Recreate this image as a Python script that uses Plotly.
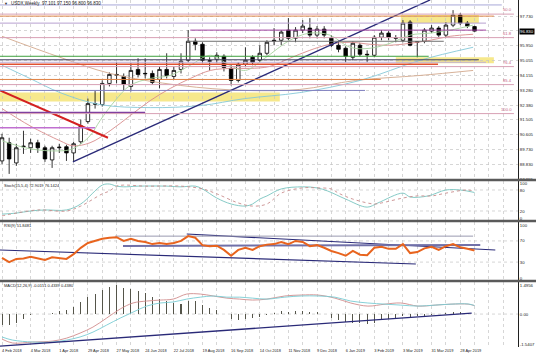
import plotly.graph_objects as go

# ---------------- data ----------------
bar_index = list(range(67))
date_label_bars = [0, 4, 8, 12, 16, 20, 24, 28, 32, 36, 40, 44, 48, 52, 56, 60, 64]
date_labels = ["4 Feb 2018", "4 Mar 2018", "1 Apr 2018", "29 Apr 2018", "27 May 2018",
               "24 Jun 2018", "22 Jul 2018", "19 Aug 2018", "16 Sep 2018", "14 Oct 2018",
               "11 Nov 2018", "9 Dec 2018", "6 Jan 2019", "3 Feb 2019", "3 Mar 2019",
               "31 Mar 2019", "28 Apr 2019"]

open_p = [89.04, 90.13, 88.92, 89.89, 89.83, 90.13, 89.83, 89.10, 89.83, 89.89,
          89.52, 90.19, 91.40, 92.48, 92.42, 93.69, 94.23, 94.11, 93.51, 94.53,
          94.26, 94.29, 93.93, 94.53, 94.11, 94.53, 95.08, 96.22, 96.04, 95.02,
          95.14, 95.32, 94.59, 93.87, 94.84, 95.26, 95.08, 95.50, 96.28, 96.28,
          96.89, 96.40, 96.89, 97.01, 96.59, 96.95, 96.40, 95.98, 95.80, 95.26,
          95.98, 95.44, 95.38, 96.46, 96.71, 96.40, 96.28, 97.37, 96.16, 96.22,
          96.83, 97.01, 96.59, 97.19, 97.79, 97.31, 97.101]
high_p = [90.67, 90.43, 90.07, 90.85, 90.37, 90.31, 89.95, 89.95, 90.07, 90.01,
          90.19, 91.52, 92.78, 93.27, 93.87, 94.35, 94.96, 94.29, 94.90, 95.20,
          95.20, 94.47, 94.71, 95.50, 94.71, 95.50, 96.89, 96.40, 96.16, 95.26,
          95.56, 95.44, 94.84, 94.96, 95.86, 95.38, 95.98, 96.28, 97.01, 96.89,
          97.61, 97.07, 97.49, 97.61, 97.13, 97.13, 96.59, 96.28, 95.92, 96.22,
          96.10, 95.68, 96.59, 96.89, 96.83, 96.59, 97.49, 97.49, 96.22, 97.01,
          97.19, 97.13, 97.37, 98.09, 97.91, 97.43, 97.150]
low_p = [88.86, 88.26, 88.74, 89.46, 89.52, 89.52, 88.98, 88.62, 89.52, 89.04,
         88.98, 90.07, 91.27, 92.18, 92.30, 93.51, 93.69, 93.27, 93.21, 94.05,
         93.99, 93.63, 93.39, 93.99, 93.93, 94.29, 94.96, 95.68, 94.90, 94.47,
         94.90, 94.41, 93.57, 93.75, 94.71, 94.78, 94.96, 95.38, 95.98, 95.98,
         96.28, 96.16, 96.71, 96.40, 96.40, 96.40, 95.86, 95.56, 94.96, 95.08,
         95.32, 94.96, 95.26, 96.28, 96.28, 96.16, 96.16, 95.92, 95.26, 96.10,
         96.71, 96.46, 96.46, 97.07, 97.19, 97.01, 96.800]
close_p = [90.43, 89.16, 89.83, 89.92, 90.13, 89.83, 89.16, 89.83, 89.86, 89.52,
           90.07, 91.15, 92.48, 92.45, 93.69, 94.23, 94.20, 93.63, 94.47, 94.23,
           94.29, 93.75, 94.53, 94.17, 94.47, 95.02, 96.22, 96.04, 95.08, 95.05,
           95.38, 94.65, 93.87, 94.84, 95.08, 94.96, 95.50, 96.16, 96.25, 96.77,
           96.40, 96.89, 97.13, 96.59, 96.95, 96.59, 95.98, 95.74, 95.32, 96.10,
           95.44, 95.41, 96.46, 96.71, 96.46, 96.43, 97.31, 95.98, 96.19, 96.89,
           97.01, 96.59, 97.19, 97.79, 97.31, 97.13, 96.830]

# moving averages, read at sample bars
ma_long_bars = [0, 8.1, 15.1, 24.9, 33.9, 41.6, 49.4, 58.4, 65.8]
ma_long_vals = [96.52, 95.26, 94.29, 93.57, 93.27, 93.33, 93.87, 94.17, 94.47]
ma_mid_bars = [0, 3.9, 8.1, 13.7, 20.7, 27.7, 33.9, 41.6, 50, 58.4, 65.8]
ma_mid_vals = [94.78, 93.99, 93.14, 92.42, 92.24, 92.36, 92.78, 93.14, 93.87, 95.08, 95.86]
ma_21_bars = [0, 3.9, 8.1, 9.9, 12.3, 15.1, 17.9, 20.7, 23.5, 26.3, 29.1, 31.8,
              34.6, 37.4, 40.2, 43, 45.8, 48.6, 51.4, 54.2, 57, 59.8, 62.6, 65.8]
ma_21_vals = [92.18, 91.15, 90.25, 89.95, 90.13, 90.85, 91.76, 92.66, 93.39, 93.99,
              94.47, 94.59, 94.59, 94.71, 95.20, 95.68, 96.04, 96.16, 96.04, 95.98,
              96.10, 96.28, 96.52, 96.64]
ma_fast_bars = [0, 3.9, 7.8, 9.9, 12.3, 13.7, 15.8, 17.9, 20.7, 23.5, 26.3, 29.1,
                31.8, 34, 36.7, 40.2, 43, 45.8, 48.6, 51.4, 54.2, 57, 59.8, 62.6, 65.8]
ma_fast_vals = [90.25, 89.77, 89.64, 89.77, 90.55, 91.46, 92.66, 93.57, 93.99, 94.17,
                94.78, 95.38, 94.78, 94.47, 95.20, 96.28, 96.71, 96.59, 95.86, 95.80,
                96.10, 96.59, 96.71, 96.89, 97.19]

price_ticks = [97.730, 96.850, 95.950, 95.055, 94.155, 93.280, 92.380, 91.505,
               90.605, 89.730, 88.830, 87.955]
price_tick_text = ["97.730", "", "95.950", "95.055", "94.155", "93.280", "92.380",
                   "91.505", "90.605", "89.730", "88.830", "87.955"]

# support / resistance levels (price) and their bar extents
level_prices = [98.40, 97.73, 97.31, 96.89, 96.22, 95.32, 95.11, 94.96, 94.84, 93.93, 93.27, 91.94, 91.03]
level_from = [-0.3, -0.3, -0.3, 26.3, 25.8, -0.3, -0.3, -0.3, -0.3, -0.3, -0.3, -0.3, -0.3]
level_to = [69.8, 68.7, 67.6, 67.6, 61.7, 59.6, 66.6, 67.6, 60.9, 52.9, 50.7, 20.0, 13.0]
fib_names = ["50.0", "61.8", "76.4", "85.4", "100.0"]
fib_prices = [97.85, 96.44, 94.70, 93.62, 91.88]
zone_from = [-0.3, 55.7, 55.0]
zone_to = [38.8, 66.6, 68.7]
zone_low = [92.60, 97.31, 94.90]
zone_high = [93.14, 97.79, 95.26]
red_trend = ([-0.28, 14.8], [93.27, 90.43])
up_trend = ([9.9, 59.8], [88.98, 98.70])

stoch_k_bars = [0, 2, 4, 6, 9, 11, 14, 15, 16, 17, 19, 23, 25, 27, 28, 30, 32, 34, 35, 36,
                37, 39, 42, 44, 45.5, 48, 51, 52.5, 56, 57, 59.5, 62, 64, 66]
stoch_k = [11, 14, 20, 23, 23, 40, 94, 97, 91, 89, 91, 91, 89, 91, 83, 57, 40, 34, 40, 54,
           63, 83, 89, 86, 77, 54, 31, 43, 71, 60, 63, 80, 80, 72.9]
stoch_d_bars = [0, 2, 5, 9, 11, 14, 15, 16, 17, 20, 25, 28, 30, 33, 35, 37, 39, 42, 44, 46,
                47, 49, 52, 53, 56, 58, 60, 62, 65, 66]
stoch_d = [6, 14, 23, 20, 34, 69, 77, 91, 94, 91, 91, 83, 69, 43, 34, 40, 71, 86, 86, 83,
           71, 54, 40, 43, 57, 63, 63, 71, 80, 76.1]

rsi = [38, 30, 36, 37, 40, 37, 34, 39, 38, 36, 45, 57, 66, 70, 74, 76, 77, 70, 74, 70,
       68, 64, 66, 64, 66, 70, 79, 76, 62, 60, 61, 53, 42, 53, 57, 53, 60, 63, 64, 68,
       64, 70, 68, 60, 62, 57, 51, 47, 42, 51, 44, 43, 57, 59, 55, 55, 64, 47, 49, 56,
       59, 53, 60, 64, 58, 55, 51.85]
rsi_lines = [([-0.28, 57.8], [52.8, 26.4]), ([25.8, 68.9], [83, 52.8]),
             ([16.9, 66.8], [60.4, 62.3]), ([15.8, 65.8], [79, 79])]

macd_hist = [-0.57, -0.57, -0.46, -0.26, -0.03, 0.0, 0.0, 0.05, 0.15, 0.2,
             0.34, 0.6, 0.9, 1.03, 1.24, 1.41, 1.5, 1.36, 1.29, 1.2,
             1.1, 0.9, 0.79, 0.65, 0.57, 0.53, 0.69, 0.65, 0.48, 0.31,
             0.22, 0.0, -0.26, -0.29, -0.26, -0.21, -0.17, -0.05, 0.05, 0.17,
             0.13, 0.15, 0.15, 0.12, 0.1, 0.0, -0.2, -0.28, -0.4, -0.45,
             -0.45, -0.5, -0.45, -0.3, -0.25, -0.2, -0.12, -0.17, -0.12, -0.08,
             -0.04, 0.0, 0.05, 0.1, 0.1, 0.05, -0.0151]
macd_line_bars = [0, 1.5, 4.3, 7.1, 9, 10.9, 12.7, 14.6, 16.5, 18.3, 20.2, 22.1, 23.9,
                  25.8, 27.7, 29.5, 31.4, 33.2, 35, 37, 39.5, 41.8, 44.1, 46.5, 48.7,
                  51.1, 53.5, 55.7, 58.1, 60.5, 62.7, 65.1, 66]
macd_pink = [-1.29, -1.49, -1.44, -1.39, -1.24, -0.98, -0.67, -0.21, 0.26, 0.57, 0.67,
             0.72, 0.77, 1.03, 1.03, 0.93, 0.82, 0.77, 0.72, 0.77, 0.93, 0.98, 0.98,
             0.82, 0.57, 0.41, 0.51, 0.57, 0.41, 0.46, 0.51, 0.51, 0.4339]
macd_teal = [-1.18, -1.34, -1.44, -1.44, -1.34, -1.18, -0.93, -0.57, -0.21, 0.10, 0.41,
             0.57, 0.62, 0.77, 0.87, 0.93, 0.87, 0.87, 0.82, 0.77, 0.87, 0.93, 0.93,
             0.87, 0.67, 0.57, 0.51, 0.46, 0.41, 0.46, 0.51, 0.52, 0.4380]
macd_trend = ([-0.28, 65.6], [-1.65, 0.05])

# ---------------- geometry helpers ----------------
W, H = 536, 357
PLOT_RIGHT = 518


def fx(px):
    return px / W


def fy(px):
    return 1 - px / H


FONT = "Liberation Sans"
GRID = "#c4c4c4"
XRANGE = [-0.28, 72.07]

fig = go.Figure()

# main panel
fig.add_trace(go.Candlestick(
    x=bar_index, open=open_p, high=high_p, low=low_p, close=close_p,
    increasing=dict(line=dict(color="black", width=0.8), fillcolor="white"),
    decreasing=dict(line=dict(color="black", width=0.8), fillcolor="black"),
    whiskerwidth=0, xaxis="x", yaxis="y"))
for bx, vals, col in [(ma_long_bars, ma_long_vals, "#d2a88c"),
                      (ma_mid_bars, ma_mid_vals, "#86c8d8"),
                      (ma_21_bars, ma_21_vals, "#d88c8c"),
                      (ma_fast_bars, ma_fast_vals, "#a8d4a0")]:
    fig.add_trace(go.Scatter(x=bx, y=vals, mode="lines", line=dict(color=col, width=0.9, shape="spline"),
                             xaxis="x", yaxis="y"))
fig.add_trace(go.Scatter(x=red_trend[0], y=red_trend[1], mode="lines",
                         line=dict(color="#d42020", width=2), xaxis="x", yaxis="y"))
fig.add_trace(go.Scatter(x=up_trend[0], y=up_trend[1], mode="lines",
                         line=dict(color="#2a2a78", width=1.4), xaxis="x", yaxis="y"))

# stochastic
fig.add_trace(go.Scatter(x=stoch_k_bars, y=stoch_k, mode="lines",
                         line=dict(color="#78c4c0", width=0.9, shape="spline"), xaxis="x2", yaxis="y2"))
fig.add_trace(go.Scatter(x=stoch_d_bars, y=stoch_d, mode="lines",
                         line=dict(color="#c88c8c", width=0.9, dash="dot", shape="spline"), xaxis="x2", yaxis="y2"))

# RSI
for (lx, ly), col, wd in zip(rsi_lines, ["#2a2a78", "#2a2a78", "#7070a8", "#9a9ab0"], [1.2, 1.2, 2, 1]):
    fig.add_trace(go.Scatter(x=lx, y=ly, mode="lines", line=dict(color=col, width=wd), xaxis="x3", yaxis="y3"))
fig.add_trace(go.Scatter(x=bar_index, y=rsi, mode="lines",
                         line=dict(color="#e8641e", width=2), xaxis="x3", yaxis="y3"))

# MACD
fig.add_trace(go.Bar(x=bar_index, y=macd_hist, width=0.14, marker=dict(color="#55554a", line=dict(width=0)),
                     xaxis="x4", yaxis="y4"))
fig.add_trace(go.Scatter(x=macd_line_bars, y=macd_pink, mode="lines",
                         line=dict(color="#d08c8c", width=0.9, shape="spline"), xaxis="x4", yaxis="y4"))
fig.add_trace(go.Scatter(x=macd_line_bars, y=macd_teal, mode="lines",
                         line=dict(color="#78ccd4", width=0.9, shape="spline"), xaxis="x4", yaxis="y4"))
fig.add_trace(go.Scatter(x=macd_trend[0], y=macd_trend[1], mode="lines",
                         line=dict(color="#2a2a78", width=1.4), xaxis="x4", yaxis="y4"))

# ---------------- shapes ----------------
shapes = []
for lo, hi, a, b in zip(zone_low, zone_high, zone_from, zone_to):
    shapes.append(dict(type="rect", xref="x", yref="y", x0=a, x1=b, y0=lo, y1=hi,
                       fillcolor="#f6e88c", line=dict(width=0), layer="below"))
level_colors = ["#a8a8d8", "#e0884a", "#b8a0d0", "#a040a0", "#707070", "#3ea03e", "#404060",
                "#c0b0d8", "#e05030", "#e08040", "#8080c0", "#8040a0", "#c070d0"]
level_widths = [1, 1, 1, 1, 1, 1, 1, 1, 1.5, 1, 1, 1.5, 1.5]
for p, a, b, c, w in zip(level_prices, level_from, level_to, level_colors, level_widths):
    shapes.append(dict(type="line", xref="x", yref="y", x0=a, x1=b, y0=p, y1=p,
                       line=dict(color=c, width=w), layer="above"))
for p in fib_prices:
    shapes.append(dict(type="line", xref="x", yref="y", x0=-0.3, x1=71.5, y0=p, y1=p,
                       line=dict(color="#d8a0b4", width=1), layer="above"))
# indicator levels
for v in [80, 20]:
    shapes.append(dict(type="line", xref="x2", yref="y2", x0=XRANGE[0], x1=XRANGE[1], y0=v, y1=v,
                       line=dict(color=GRID, width=0.7, dash="dot"), layer="below"))
for v in [70, 30]:
    shapes.append(dict(type="line", xref="x3", yref="y3", x0=XRANGE[0], x1=XRANGE[1], y0=v, y1=v,
                       line=dict(color=GRID, width=0.7, dash="dot"), layer="below"))
shapes.append(dict(type="line", xref="x4", yref="y4", x0=XRANGE[0], x1=XRANGE[1], y0=0, y1=0,
                   line=dict(color=GRID, width=0.7, dash="dot"), layer="below"))
# panel separators
for ypx in [180, 221, 281]:
    shapes.append(dict(type="line", xref="paper", yref="paper", x0=0, x1=1, y0=fy(ypx), y1=fy(ypx),
                       line=dict(color="#5a5a5a", width=2.5)))

# ---------------- annotations ----------------
ann = []
ann.append(dict(xref="paper", yref="paper", x=fx(2), y=fy(4), xanchor="left", yanchor="middle",
                text="▼", showarrow=False, font=dict(size=4, color="#303030", family=FONT)))
ann.append(dict(xref="paper", yref="paper", x=fx(9), y=fy(4), xanchor="left", yanchor="middle",
                text="USDX,Weekly  97.101 97.150 96.800 96.830", showarrow=False,
                font=dict(size=4.5, color="#202020", family=FONT)))
for txt, ypx in [("Stoch(15,5,4) 72.9019 76.1424", 185), ("RSI(9) 51.8481", 225),
                 ("MACD(12,26,9) -0.0151 0.4339 0.4380", 285)]:
    ann.append(dict(xref="paper", yref="paper", x=fx(2), y=fy(ypx), xanchor="left", yanchor="middle",
                    text=txt, showarrow=False, font=dict(size=4, color="#202020", family=FONT)))
for name, p in zip(fib_names, fib_prices):
    ann.append(dict(xref="paper", yref="y", x=fx(514), y=p, xanchor="right", yanchor="bottom",
                    text=name, showarrow=False, font=dict(size=4.2, color="#c86482", family=FONT)))
ann.append(dict(xref="paper", yref="y", x=fx(519), y=close_p[-1], xanchor="left", yanchor="middle",
                text="96.830", showarrow=False, bgcolor="#000000", borderpad=0,
                font=dict(size=4.3, color="white", family=FONT)))

# ---------------- axes ----------------
xgridvals = list(range(0, 73, 2))

xcommon = dict(domain=[0, fx(PLOT_RIGHT)], range=XRANGE, showgrid=False, zeroline=False,
               ticks="", rangeslider=dict(visible=False), fixedrange=True, automargin=False,
               minor=dict(tickmode="array", tickvals=xgridvals, showgrid=True, gridcolor=GRID,
                          griddash="dot", gridwidth=0.7, ticks=""))
ycommon = dict(side="right", showline=True, linecolor="#202020", linewidth=1, zeroline=False,
               ticks="", automargin=False,
               tickfont=dict(size=4.3, family=FONT, color="#202020"), fixedrange=True)

layout = dict(
    width=W, height=H, margin=dict(l=0, r=0, t=0, b=0, autoexpand=False),
    paper_bgcolor="white", plot_bgcolor="white", showlegend=False, hovermode=False,
    shapes=shapes, annotations=ann, bargap=0,
    xaxis=dict(xcommon, anchor="y", showticklabels=False),
    xaxis2=dict(xcommon, anchor="y2", matches="x", showticklabels=False),
    xaxis3=dict(xcommon, anchor="y3", matches="x", showticklabels=False),
    xaxis4=dict(xcommon, anchor="y4", matches="x", showticklabels=True,
                tickmode="array", tickvals=date_label_bars, ticktext=date_labels,
                tickangle=0, ticklabelposition="outside right",
                tickfont=dict(size=3.9, family=FONT, color="#202020")),
    yaxis=dict(ycommon, anchor="x", domain=[fy(180), fy(0)], range=[87.895, 98.697],
               tickvals=price_ticks, ticktext=price_tick_text, showgrid=True, gridcolor=GRID,
               griddash="dot", gridwidth=0.7),
    yaxis2=dict(ycommon, anchor="x2", domain=[fy(221), fy(181)], range=[-8.6, 105.7],
                tickvals=[100, 80, 20, 0], showgrid=False),
    yaxis3=dict(ycommon, anchor="x3", domain=[fy(280), fy(222)], range=[-3.8, 105.7],
                tickvals=[100, 70, 30, 0], showgrid=False),
    yaxis4=dict(ycommon, anchor="x4", domain=[fy(347), fy(282)], range=[-1.695, 1.65],
                tickvals=[1.4956, 0, -1.5407], ticktext=["1.4956", "0.00", "-1.5407"], showgrid=False),
)
fig.update_layout(**layout)
fig.write_html("out.html", config={"displayModeBar": False, "staticPlot": True},
               post_script="document.body.style.margin='0';document.body.style.padding='0';"
                           "document.body.style.overflow='hidden';")
